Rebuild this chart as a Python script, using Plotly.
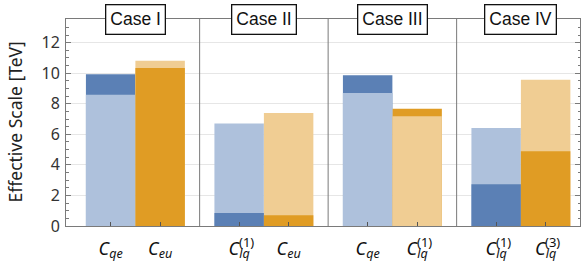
import plotly.graph_objects as go

# ---- data ----
cases = ["Case I", "Case II", "Case III", "Case IV"]
coeff_names = ["C", "C", "C", "C", "C", "C", "C", "C"]
coeff_subs = ["qe", "eu", "lq", "eu", "qe", "lq", "lq", "lq"]
coeff_sups = ["", "", "(1)", "", "", "(1)", "(1)", "(3)"]
dark_vals = [9.93, 10.35, 0.85, 0.70, 9.86, 7.67, 2.73, 4.90]
light_vals = [8.59, 10.82, 6.71, 7.39, 8.70, 7.19, 6.41, 9.57]
families = ["blue", "orange", "blue", "orange", "blue", "orange", "blue", "orange"]
y_ticks = [0, 2, 4, 6, 8, 10, 12]
y_title = "Effective Scale [TeV]"

# ---- style ----
COL = {
    "blue": {"dark": "#5b80b5", "light": "#aec1dc"},
    "orange": {"dark": "#e09c24", "light": "#f0cd93"},
}
BAR_W = 0.385
OFFS = [-BAR_W / 2, BAR_W / 2]
positions = [i // 2 + OFFS[i % 2] for i in range(len(dark_vals))]

back_vals, back_cols, front_vals, front_cols = [], [], [], []
for d, l, f in zip(dark_vals, light_vals, families):
    if d >= l:
        back_vals.append(d); back_cols.append(COL[f]["dark"])
        front_vals.append(l); front_cols.append(COL[f]["light"])
    else:
        back_vals.append(l); back_cols.append(COL[f]["light"])
        front_vals.append(d); front_cols.append(COL[f]["dark"])

fig = go.Figure()
fig.add_trace(go.Bar(x=positions, y=back_vals, width=BAR_W,
                     marker=dict(color=back_cols, line=dict(width=0)),
                     showlegend=False, hoverinfo="skip"))
fig.add_trace(go.Bar(x=positions, y=front_vals, width=BAR_W,
                     marker=dict(color=front_cols, line=dict(width=0)),
                     showlegend=False, hoverinfo="skip"))

ticktext = [f"<i>{c}</i><sub><i>{s}</i></sub>" for c, s in zip(coeff_names, coeff_subs)]

AX = "#7a7a7a"
fig.update_layout(
    width=581, height=267,
    margin=dict(l=66, r=1, t=19, b=41),
    paper_bgcolor="white", plot_bgcolor="white",
    barmode="overlay",
    font=dict(family="Noto Sans", color="#333"),
    xaxis=dict(range=[-0.54, 3.46], tickvals=positions, ticktext=ticktext,
               ticks="inside", ticklen=4, tickcolor="#555", showgrid=False,
               showline=True, linecolor=AX, linewidth=1, mirror=True, automargin=False,
               zeroline=False, ticklabelstandoff=6,
               tickfont=dict(size=18, family="Noto Sans", color="#111")),
    yaxis=dict(range=[0, 13.55], tickvals=y_ticks, ticks="inside", ticklen=5,
               tickcolor=AX, showgrid=True, gridcolor="#e6e6e6", gridwidth=1,
               showline=True, linecolor=AX, linewidth=1, mirror="ticks", automargin=False,
               zeroline=False, tickfont=dict(size=16, color="#333"), ticklabelstandoff=2,
               minor=dict(dtick=0.5, ticks="inside", ticklen=2.5, tickcolor=AX, showgrid=False)),
)

# y-axis title
fig.add_annotation(x=0, y=0.5, xref="paper", yref="paper", text=y_title, showarrow=False,
                   textangle=-90, xanchor="center", yanchor="middle", xshift=-52,
                   font=dict(size=17.5, family="Noto Sans", color="#222"))

# separators between cases
for g in range(len(cases) - 1):
    fig.add_shape(type="line", xref="x", yref="paper", x0=g + 0.5, x1=g + 0.5,
                  y0=0, y1=1, line=dict(color=AX, width=1))

# case label boxes
for g, name in enumerate(cases):
    fig.add_annotation(x=g, y=1, xref="x", yref="paper", text=name, showarrow=False,
                       font=dict(size=17.5, family="Liberation Sans", color="#111"),
                       bgcolor="white", bordercolor="#111", borderwidth=1.3, borderpad=4,
                       yanchor="middle")

# superscripts on tick labels
for x, sup in zip(positions, coeff_sups):
    if sup:
        fig.add_annotation(x=x, y=0, xref="x", yref="paper", text=sup, showarrow=False,
                           xshift=7, yshift=-16, yanchor="middle",
                           font=dict(size=13, family="Noto Sans", color="#111"))

fig.write_html("out.html", config={"displayModeBar": False},
               post_script="document.body.style.margin='0px';")
